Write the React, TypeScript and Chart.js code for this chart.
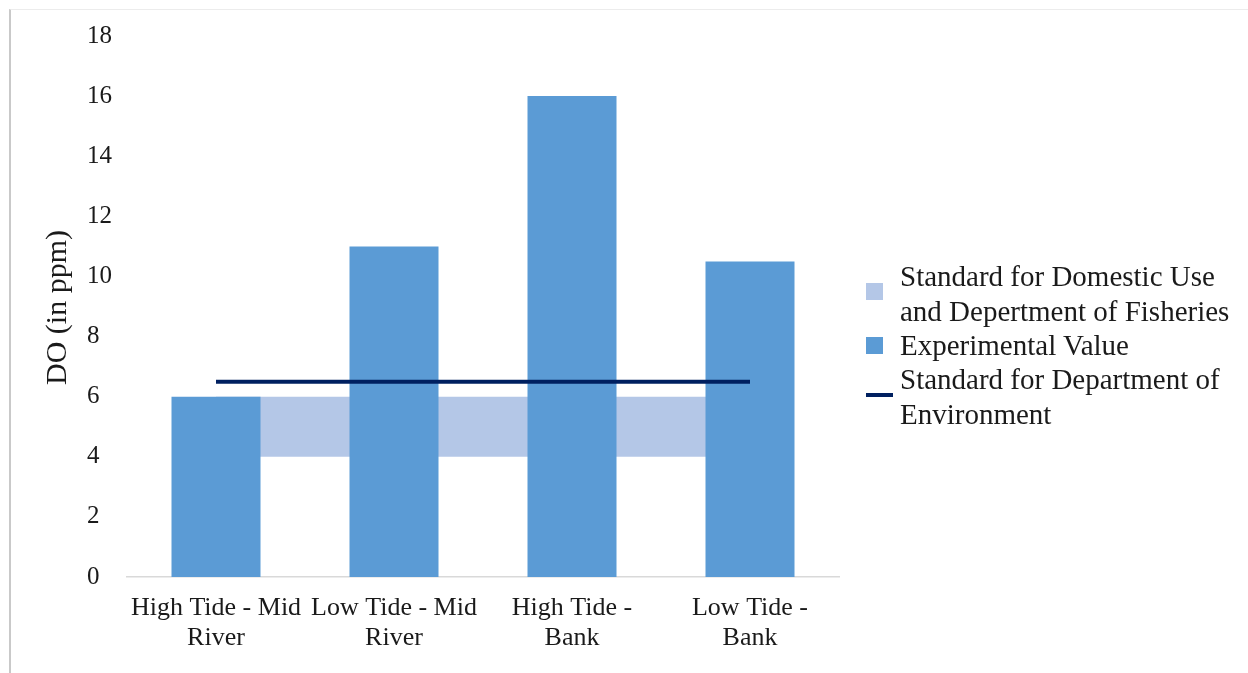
import React, { useEffect, useRef } from "react";
import { Chart, registerables } from "chart.js";

Chart.register(...registerables);

// Sampling sites along the river
const categories: string[][] = [
  ["High Tide - Mid", "River"],
  ["Low Tide - Mid", "River"],
  ["High Tide -", "Bank"],
  ["Low Tide -", "Bank"],
];

// Measured dissolved oxygen (ppm)
const experimentalValue = [6, 11, 16, 10.5];

// Domestic use / fisheries acceptable range (ppm)
const domesticLower = [4, 4, 4, 4];
const domesticUpper = [6, 6, 6, 6];

// Department of Environment standard (ppm)
const environmentStandard = [6.5, 6.5, 6.5, 6.5];

const yMin = 0;
const yMax = 18;
const yStep = 2;
const axisTitle = "DO (in ppm)";

const legendBandLabel = ["Standard for Domestic Use", "and Depertment of Fisheries"];
const legendBarLabel = ["Experimental Value"];
const legendLineLabel = ["Standard for Department of", "Environment"];

const BAR_COLOR = "#5B9BD5";
const BAND_COLOR = "#B4C7E7";
const LINE_COLOR = "#002060";
const TEXT_COLOR = "#1a1a1a";
const FONT = '"Liberation Serif", "Times New Roman", serif';

// Rotated y-axis title, drawn left of the left-aligned tick labels
const yTitlePlugin = {
  id: "yTitle",
  afterDraw(chart: any) {
    const { ctx, chartArea } = chart;
    ctx.save();
    ctx.translate(58, (chartArea.top + chartArea.bottom) / 2 + 1);
    ctx.rotate(-Math.PI / 2);
    ctx.font = `30px ${FONT}`;
    ctx.fillStyle = TEXT_COLOR;
    ctx.textAlign = "center";
    ctx.textBaseline = "middle";
    ctx.fillText(axisTitle, 0, 0);
    ctx.restore();
  },
};

function LegendLines({ lines, top }: { lines: string[]; top: number }) {
  return (
    <>
      {lines.map((t, i) => (
        <div
          key={i}
          style={{
            position: "absolute",
            left: 900,
            top: top + i * 35 - 17,
            height: 34,
            lineHeight: "34px",
            fontSize: 29,
            fontFamily: FONT,
            color: TEXT_COLOR,
            whiteSpace: "nowrap",
          }}
        >
          {t}
        </div>
      ))}
    </>
  );
}

export default function App() {
  const canvasRef = useRef<HTMLCanvasElement | null>(null);

  useEffect(() => {
    const canvas = canvasRef.current;
    if (!canvas) return;
    const chart = new Chart(canvas, {
      type: "bar",
      data: {
        labels: categories,
        datasets: [
          {
            type: "line",
            label: "lower",
            data: domesticLower,
            borderWidth: 0,
            borderColor: "rgba(0,0,0,0)",
            pointRadius: 0,
            fill: false,
            order: 3,
          },
          {
            type: "line",
            label: legendBandLabel.join(" "),
            data: domesticUpper,
            borderWidth: 0,
            borderColor: "rgba(0,0,0,0)",
            backgroundColor: BAND_COLOR,
            pointRadius: 0,
            fill: 0,
            order: 2,
          },
          {
            type: "bar",
            label: legendBarLabel.join(" "),
            data: experimentalValue,
            backgroundColor: BAR_COLOR,
            borderWidth: 0,
            barPercentage: 0.5,
            categoryPercentage: 1,
            order: 1,
          },
          {
            type: "line",
            label: legendLineLabel.join(" "),
            data: environmentStandard,
            borderColor: LINE_COLOR,
            borderWidth: 4,
            pointRadius: 0,
            fill: false,
            order: 0,
          },
        ],
      } as any,
      options: {
        responsive: false,
        animation: false,
        events: [],
        layout: { padding: { left: 87, right: 409, top: 36, bottom: 0 } },
        plugins: {
          legend: { display: false },
          tooltip: { enabled: false },
          title: { display: false },
        },
        scales: {
          x: {
            offset: true,
            grid: { display: true, drawOnChartArea: false, drawTicks: false, color: "rgba(0,0,0,0)" },
            border: { display: true, color: "#d9d9d9", width: 1.5 },
            ticks: {
              autoSkip: false,
              maxRotation: 0,
              minRotation: 0,
              padding: 16,
              color: TEXT_COLOR,
              font: { family: FONT, size: 26, lineHeight: "30px" } as any,
            },
            afterFit(scale: any) {
              scale.height = 96;
            },
          },
          y: {
            min: yMin,
            max: yMax,
            grid: { display: false },
            border: { display: false },
            ticks: {
              stepSize: yStep,
              crossAlign: "far",
              color: TEXT_COLOR,
              font: { family: FONT, size: 25 },
            },
            afterFit(scale: any) {
              scale.width = 40;
            },
          },
        },
      },
      plugins: [yTitlePlugin],
    });
    return () => chart.destroy();
  }, []);

  return (
    <div
      style={{
        position: "fixed",
        left: 0,
        top: 0,
        width: 1248,
        height: 673,
        background: "#ffffff",
        overflow: "hidden",
      }}
    >
      <div
        style={{
          position: "absolute",
          left: 9,
          top: 9,
          right: 0,
          bottom: -2,
          borderLeft: "2px solid #c9c9c9",
          borderTop: "1px solid #ececec",
        }}
      />
      <canvas
        ref={canvasRef}
        width={1248}
        height={673}
        style={{ position: "absolute", left: 0, top: 0, width: 1248, height: 673 }}
      />
      <div style={{ position: "absolute", left: 866, top: 283, width: 17, height: 17, background: BAND_COLOR }} />
      <LegendLines lines={legendBandLabel} top={276} />
      <div style={{ position: "absolute", left: 866, top: 337, width: 17, height: 17, background: BAR_COLOR }} />
      <LegendLines lines={legendBarLabel} top={345} />
      <div style={{ position: "absolute", left: 866, top: 393, width: 27, height: 4, background: LINE_COLOR }} />
      <LegendLines lines={legendLineLabel} top={379} />
    </div>
  );
}
